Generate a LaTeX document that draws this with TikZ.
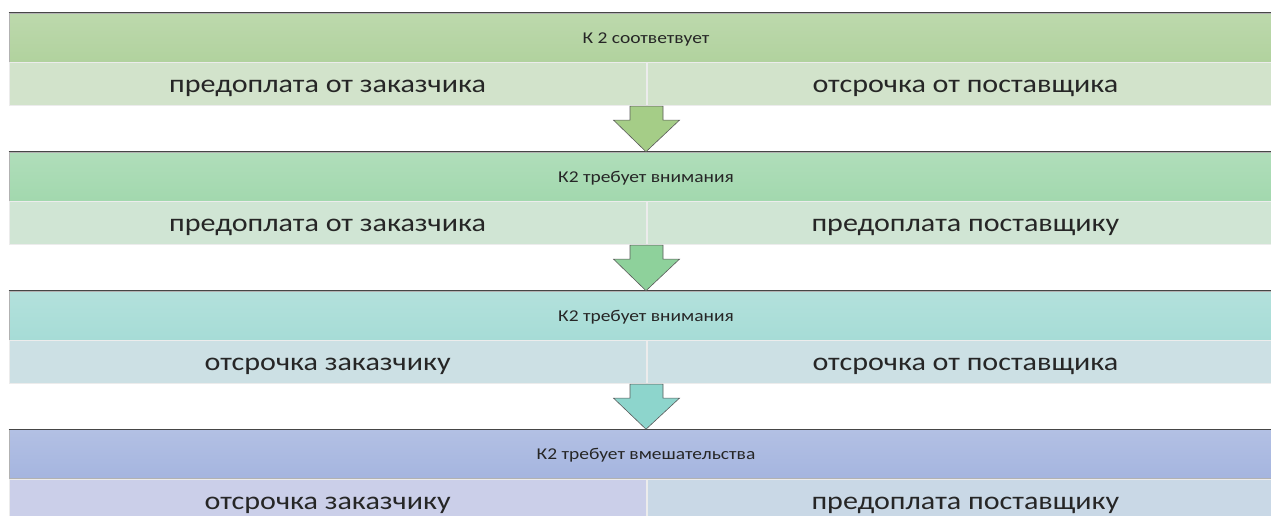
\documentclass[tikz,border=0pt]{standalone}
\usepackage{graphicx}
\usepackage{fontspec}
\setmainfont{Carlito}
\usetikzlibrary{positioning}

\definecolor{headA}{HTML}{B1D29E}
\definecolor{headB}{HTML}{A2D8AE}
\definecolor{headC}{HTML}{A6DCD6}
\definecolor{headD}{HTML}{A5B5DF}
\definecolor{subA}{HTML}{D2E3CB}
\definecolor{subB}{HTML}{D0E5D4}
\definecolor{subC}{HTML}{CCE0E4}
\definecolor{subDl}{HTML}{CBCFE9}
\definecolor{subDr}{HTML}{C9D8E6}
\definecolor{arrowA}{HTML}{A5CD87}
\definecolor{arrowB}{HTML}{8ED19B}
\definecolor{arrowC}{HTML}{8DD5CC}

% the lettering of the original is a little wide
\newcommand{\widetext}[1]{\scalebox{1.18}[1]{#1}}

\tikzset{
  headbox/.style={rectangle, draw=gray!60, line width=0.6pt, minimum width=1274pt,
    minimum height=49pt, inner sep=0pt, text height=11pt, text depth=0pt,
    text=black!85, font=\fontsize{16.5}{18}\selectfont},
  subbox/.style={rectangle, draw=white!85!gray, line width=0.8pt, minimum width=637pt,
    minimum height=43pt, inner sep=0pt, text height=17pt, text depth=0pt,
    text=black!85, font=\fontsize{25.5}{30}\selectfont},
  arrowline/.style={draw=gray!70!black, line width=0.6pt, line join=miter}
}

\begin{document}
\begin{tikzpicture}[x=1pt, y=1pt]
            \useasboundingbox (0,0) rectangle (1271,-515);
            \clip (0,0) rectangle (1271,-515);

            \node[headbox, top color=headA!85!white, bottom color=headA] (h1) at (646,-37.5) {\widetext{К 2 соответвует}};
            \node[subbox, fill=subA, below=0pt of h1.south west, anchor=north west] (l1) {\widetext{предоплата от заказчика}};
            \node[subbox, fill=subA, right=0pt of l1] (r1) {\widetext{отсрочка от поставщика}};

            \node[headbox, top color=headB!85!white, bottom color=headB] (h2) at (646,-176.5) {\widetext{К2 требует внимания}};
            \node[subbox, fill=subB, below=0pt of h2.south west, anchor=north west] (l2) {\widetext{предоплата от заказчика}};
            \node[subbox, fill=subB, right=0pt of l2] (r2) {\widetext{предоплата поставщику}};

            \node[headbox, top color=headC!85!white, bottom color=headC] (h3) at (646,-315.5) {\widetext{К2 требует внимания}};
            \node[subbox, fill=subC, below=0pt of h3.south west, anchor=north west] (l3) {\widetext{отсрочка заказчику}};
            \node[subbox, fill=subC, right=0pt of l3] (r3) {\widetext{отсрочка от поставщика}};

            \node[headbox, top color=headD!85!white, bottom color=headD] (h4) at (646,-454) {\widetext{К2 требует вмешательства}};
            \node[subbox, fill=subDl, below=0pt of h4.south west, anchor=north west] (l4) {\widetext{отсрочка заказчику}};
            \node[subbox, fill=subDr, right=0pt of l4] (r4) {\widetext{предоплата поставщику}};

            % dark top edges of the headers
            \draw[gray!55!black, line width=1.4pt] (h1.north west) -- (h1.north east);
            \draw[gray!55!black, line width=1.4pt] (h2.north west) -- (h2.north east);
            \draw[gray!55!black, line width=1.4pt] (h3.north west) -- (h3.north east);
            \draw[gray!55!black, line width=1.4pt] (h4.north west) -- (h4.north east);

            % block arrows
            \draw[arrowline, fill=arrowA] ([xshift=-16.5pt]r1.south west) -- ([xshift=16.5pt]r1.south west) -- ([xshift=16.5pt, yshift=-14pt]r1.south west) -- ([xshift=33pt, yshift=-14pt]r1.south west) -- (h2.north) -- ([xshift=-33pt, yshift=-14pt]r1.south west) -- ([xshift=-16.5pt, yshift=-14pt]r1.south west) -- cycle;
            \draw[arrowline, fill=arrowB] ([xshift=-16.5pt]r2.south west) -- ([xshift=16.5pt]r2.south west) -- ([xshift=16.5pt, yshift=-14pt]r2.south west) -- ([xshift=33pt, yshift=-14pt]r2.south west) -- (h3.north) -- ([xshift=-33pt, yshift=-14pt]r2.south west) -- ([xshift=-16.5pt, yshift=-14pt]r2.south west) -- cycle;
            \draw[arrowline, fill=arrowC] ([xshift=-16.5pt]r3.south west) -- ([xshift=16.5pt]r3.south west) -- ([xshift=16.5pt, yshift=-14pt]r3.south west) -- ([xshift=33pt, yshift=-14pt]r3.south west) -- (h4.north) -- ([xshift=-33pt, yshift=-14pt]r3.south west) -- ([xshift=-16.5pt, yshift=-14pt]r3.south west) -- cycle;
        \end{tikzpicture}
\end{document}
